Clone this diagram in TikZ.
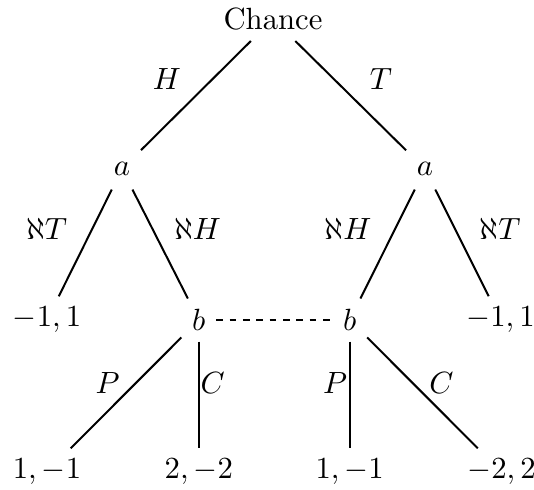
\documentclass[tikz,border=0pt]{standalone}
\begin{document}
\begin{tikzpicture}[x=0.3257pt,y=-0.3257pt,
  tn/.style={inner sep=3.33pt, minimum height=13pt},
  lbl/.style={inner sep=0pt},
  br/.style={line width=0.65pt},
  info/.style={line width=0.65pt, dash pattern=on 2.2pt off 2.15pt}]
\useasboundingbox (0,0) rectangle (534,489);
% decision and terminal nodes
\node[tn] (ch) at (273,19) {Chance};
\node[tn] (aL) at (122,169) {$a$};
\node[tn] (aR) at (425,169) {$a$};
\node[tn] (l1) at (47,320) {$-1,1$};
\node[tn] (bL) at (198.8,320) {$b$};
\node[tn] (bR) at (349.7,320) {$b$};
\node[tn] (l2) at (500.5,320) {$-1,1$};
\node[tn] (l3) at (47,472) {$1,-1$};
\node[tn] (l4) at (198.8,472) {$2,-2$};
\node[tn] (l5) at (349.7,472) {$1,-1$};
\node[tn] (l6) at (501.5,472) {$-2,2$};
% edge labels
\node[lbl] (lH) at (167,79) {$H$};
\node[lbl] (lT) at (381,79) {$T$};
\node[lbl] (lxT1) at (46.7,229) {$\aleph T$};
\node[lbl] (lxH1) at (197.5,229) {$\aleph H$};
\node[lbl] (lxH2) at (348,229) {$\aleph H$};
\node[lbl] (lxT2) at (500,229) {$\aleph T$};
\node[lbl] (lP1) at (107.7,383) {$P$};
\node[lbl] (lC1) at (212.8,383) {$C$};
\node[lbl] (lP2) at (335,383) {$P$};
\node[lbl] (lC2) at (441.5,383) {$C$};
% branches
\draw[br] (ch) -- (aL);
\draw[br] (ch) -- (aR);
\draw[br] (aL) -- (l1);
\draw[br] (aL) -- (bL);
\draw[br] (aR) -- (bR);
\draw[br] (aR) -- (l2);
\draw[br] (bL) -- (l3);
\draw[br] (bL) -- (l4);
\draw[br] (bR) -- (l5);
\draw[br] (bR) -- (l6);
% information set
\draw[info] (bL) -- (bR);
\end{tikzpicture}
\end{document}
